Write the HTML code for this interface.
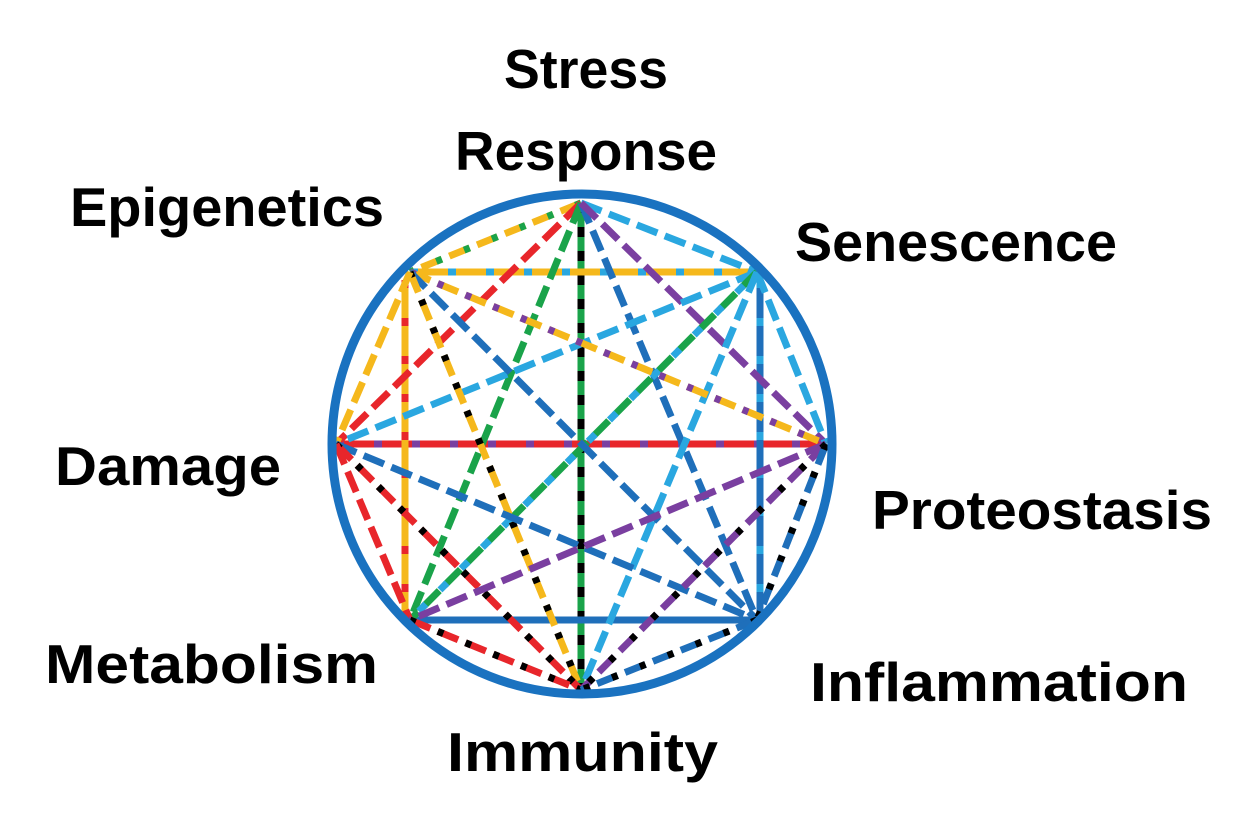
<!DOCTYPE html>
<html><head><meta charset="utf-8"><style>
html,body{margin:0;padding:0;background:#fff;width:1254px;height:836px;overflow:hidden}
svg text{font-family:"Liberation Sans",sans-serif;font-weight:bold;font-size:55px;fill:#000}
</style></head><body>
<svg width="1254" height="836" viewBox="0 0 1254 836" xmlns="http://www.w3.org/2000/svg">
<g stroke-width="7" fill="none">
<line x1="581" y1="203" x2="581" y2="690" stroke="#1aa34a"/><line x1="581" y1="203" x2="581" y2="690" stroke="#000" stroke-dasharray="10 14"/>
<line x1="336" y1="444" x2="826" y2="444" stroke="#e8262b"/><line x1="336" y1="444" x2="826" y2="444" stroke="#7a3fa0" stroke-dasharray="8 30"/>
<line x1="410" y1="272" x2="757" y2="272" stroke="#f5b81c"/><line x1="410" y1="272" x2="757" y2="272" stroke="#2aa7e0" stroke-dasharray="8 30"/>
<line x1="410" y1="620" x2="757" y2="620" stroke="#1f6fba"/>
<line x1="405" y1="280" x2="405" y2="612" stroke="#f5b81c"/><line x1="405" y1="280" x2="405" y2="612" stroke="#e8262b" stroke-dasharray="8 30"/>
<line x1="760" y1="280" x2="760" y2="612" stroke="#1f6fba"/><line x1="760" y1="280" x2="760" y2="612" stroke="#2aa7e0" stroke-dasharray="8 30"/>
<line x1="581" y1="203" x2="757" y2="272" stroke="#2aa7e0" stroke-dasharray="22 8"/>
<line x1="581" y1="203" x2="410" y2="272" stroke="#f5b81c" stroke-dasharray="22 8"/><line x1="581" y1="203" x2="410" y2="272" stroke="#1aa34a" stroke-dasharray="6 24"/>
<line x1="581" y1="203" x2="336" y2="444" stroke="#e8262b" stroke-dasharray="22 8"/>
<line x1="581" y1="203" x2="410" y2="620" stroke="#1aa34a" stroke-dasharray="22 8"/>
<line x1="581" y1="203" x2="757" y2="620" stroke="#1f6fba" stroke-dasharray="22 8"/>
<line x1="581" y1="203" x2="826" y2="444" stroke="#7a3fa0" stroke-dasharray="22 8"/>
<line x1="757" y1="272" x2="336" y2="444" stroke="#2aa7e0" stroke-dasharray="22 8"/>
<line x1="757" y1="272" x2="410" y2="620" stroke="#1aa34a" stroke-dasharray="22 8"/><line x1="757" y1="272" x2="410" y2="620" stroke="#2aa7e0" stroke-dasharray="10 20" stroke-dashoffset="11"/>
<line x1="757" y1="272" x2="826" y2="444" stroke="#2aa7e0" stroke-dasharray="22 8"/>
<line x1="757" y1="272" x2="581" y2="690" stroke="#2aa7e0" stroke-dasharray="22 8"/>
<line x1="410" y1="272" x2="826" y2="444" stroke="#f5b81c" stroke-dasharray="22 8"/><line x1="410" y1="272" x2="826" y2="444" stroke="#7a3fa0" stroke-dasharray="6 24"/>
<line x1="410" y1="272" x2="757" y2="620" stroke="#1f6fba" stroke-dasharray="22 8"/>
<line x1="410" y1="272" x2="581" y2="690" stroke="#f5b81c" stroke-dasharray="22 8"/><line x1="410" y1="272" x2="581" y2="690" stroke="#000" stroke-dasharray="6 24"/>
<line x1="410" y1="272" x2="336" y2="444" stroke="#f5b81c" stroke-dasharray="22 8"/>
<line x1="336" y1="444" x2="757" y2="620" stroke="#1f6fba" stroke-dasharray="22 8"/>
<line x1="336" y1="444" x2="581" y2="690" stroke="#e8262b" stroke-dasharray="22 8"/><line x1="336" y1="444" x2="581" y2="690" stroke="#000" stroke-dasharray="6 24"/>
<line x1="336" y1="444" x2="410" y2="620" stroke="#e8262b" stroke-dasharray="22 8"/>
<line x1="826" y1="444" x2="410" y2="620" stroke="#7a3fa0" stroke-dasharray="22 8"/>
<line x1="826" y1="444" x2="581" y2="690" stroke="#7a3fa0" stroke-dasharray="22 8"/><line x1="826" y1="444" x2="581" y2="690" stroke="#000" stroke-dasharray="6 24"/>
<line x1="826" y1="444" x2="757" y2="620" stroke="#1f6fba" stroke-dasharray="22 8"/><line x1="826" y1="444" x2="757" y2="620" stroke="#000" stroke-dasharray="6 24"/>
<line x1="410" y1="620" x2="581" y2="690" stroke="#e8262b" stroke-dasharray="22 8"/><line x1="410" y1="620" x2="581" y2="690" stroke="#000" stroke-dasharray="6 24"/>
<line x1="757" y1="620" x2="581" y2="690" stroke="#1f6fba" stroke-dasharray="22 8"/><line x1="757" y1="620" x2="581" y2="690" stroke="#000" stroke-dasharray="6 24"/>
<circle cx="582" cy="444" r="250" stroke="#1a72c0" stroke-width="9"/>
</g>
<text x="504" y="88" textLength="164" lengthAdjust="spacingAndGlyphs">Stress</text>
<text x="455" y="170" textLength="262" lengthAdjust="spacingAndGlyphs">Response</text>
<text x="70" y="226" textLength="314" lengthAdjust="spacingAndGlyphs">Epigenetics</text>
<text x="795" y="261" textLength="322" lengthAdjust="spacingAndGlyphs">Senescence</text>
<text x="55" y="485" textLength="226" lengthAdjust="spacingAndGlyphs">Damage</text>
<text x="872" y="529" textLength="340" lengthAdjust="spacingAndGlyphs">Proteostasis</text>
<text x="45" y="683" textLength="333" lengthAdjust="spacingAndGlyphs">Metabolism</text>
<text x="810" y="701" textLength="378" lengthAdjust="spacingAndGlyphs">Inflammation</text>
<text x="447" y="771" textLength="271" lengthAdjust="spacingAndGlyphs">Immunity</text>
</svg>
</body></html>
